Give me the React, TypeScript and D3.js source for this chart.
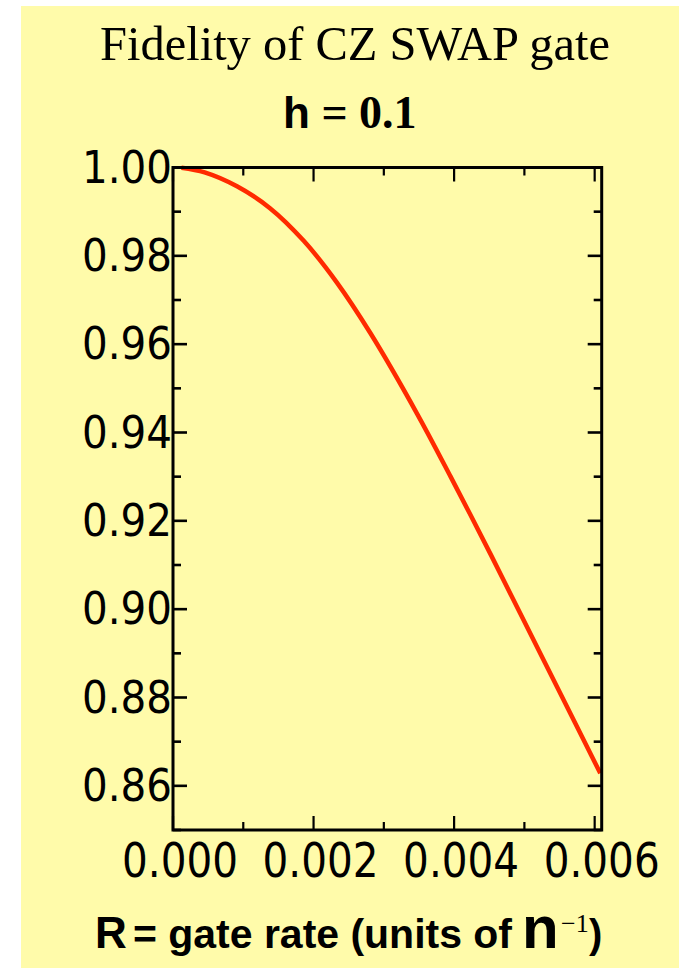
import React from "react";
import * as d3 from "d3";

// values
const rateValues = [0.00012, 0.00045, 0.00091, 0.00138, 0.00186, 0.00233, 0.00281, 0.00347, 0.00395, 0.00452, 0.00494, 0.00556, 0.00608];
const fidelityValues = [0.99995, 0.9989, 0.99575, 0.9908, 0.9834, 0.974, 0.96246, 0.94435, 0.93, 0.9124, 0.89906, 0.8794, 0.86283];

const xMajorTicks = [0, 0.002, 0.004, 0.006];
const xMinorTicks = [0.001, 0.003, 0.005];
const yMajorTicks = [0.86, 0.88, 0.9, 0.92, 0.94, 0.96, 0.98, 1.0];
const yMinorTicks = [0.85, 0.87, 0.89, 0.91, 0.93, 0.95, 0.97, 0.99];

const width = 679;
const height = 972;
const plot = { left: 173, right: 601.7, top: 167.5, bottom: 830 };
const majorLen = 14;
const minorLen = 8;

const x = d3.scaleLinear().domain([0, 0.0061]).range([plot.left, plot.right]);
const y = d3.scaleLinear().domain([0.85, 1.0]).range([plot.bottom, plot.top]);

const line = d3
  .line<number>()
  .x((d, i) => x(rateValues[i]))
  .y((d) => y(d))
  .curve(d3.curveCatmullRom.alpha(0.5));

const tickFont = "'DejaVu Sans', Verdana, sans-serif";
const sans = "'Liberation Sans', Arial, sans-serif";
const serif = "'Liberation Serif', 'Times New Roman', serif";

export default function App() {
  return (
    <svg
      width={width}
      height={height}
      style={{ position: "absolute", left: 0, top: 0 }}
    >
      <rect x={0} y={0} width={width} height={height} fill="#ffffff" />
      <rect x={21} y={6} width={width - 21} height={962} fill="#fffbaa" />

      <text
        x={355}
        y={60}
        textAnchor="middle"
        fontFamily={serif}
        fontSize={48}
        textLength={510}
        lengthAdjust="spacingAndGlyphs"
      >
        Fidelity of CZ SWAP gate
      </text>
      <text x={283} y={128} fontWeight="bold">
        <tspan fontFamily={sans} fontSize={44}>h</tspan>
        <tspan fontFamily={serif} fontSize={46}>
          {" = 0.1"}
        </tspan>
      </text>

      {/* curve */}
      <path
        d={line(fidelityValues) || ""}
        fill="none"
        stroke="#ff2a00"
        strokeWidth={4.5}
      />

      {/* y ticks, left and right */}
      {yMajorTicks.concat(yMinorTicks).map((t) => {
        const len = yMajorTicks.includes(t) ? majorLen : minorLen;
        return (
          <g key={"y" + t} stroke="#000" strokeWidth={2.6}>
            <line x1={plot.left} x2={plot.left + len} y1={y(t)} y2={y(t)} />
            <line x1={plot.right} x2={plot.right - len} y1={y(t)} y2={y(t)} />
          </g>
        );
      })}

      {/* x ticks, bottom and top */}
      {xMajorTicks.concat(xMinorTicks).map((t) => {
        const len = xMajorTicks.includes(t) ? majorLen : minorLen;
        return (
          <g key={"x" + t} stroke="#000" strokeWidth={2.2}>
            <line x1={x(t)} x2={x(t)} y1={plot.bottom} y2={plot.bottom - len} />
            <line x1={x(t)} x2={x(t)} y1={plot.top} y2={plot.top + len} />
          </g>
        );
      })}

      <rect
        x={plot.left}
        y={plot.top}
        width={plot.right - plot.left}
        height={plot.bottom - plot.top}
        fill="none"
        stroke="#000"
        strokeWidth={3}
      />

      {/* tick labels */}
      {yMajorTicks.map((t) => (
        <text
          key={"yl" + t}
          x={172}
          y={y(t) + 15}
          textAnchor="end"
          fontFamily={tickFont}
          fontSize={44}
          textLength={90}
          lengthAdjust="spacingAndGlyphs"
        >
          {d3.format(".2f")(t)}
        </text>
      ))}
      {xMajorTicks.map((t) => (
        <text
          key={"xl" + t}
          x={x(t) + 7}
          y={877}
          textAnchor="middle"
          fontFamily={tickFont}
          fontSize={48}
          textLength={116}
          lengthAdjust="spacingAndGlyphs"
        >
          {d3.format(".3f")(t)}
        </text>
      ))}

      {/* x axis title */}
      <text x={95} y={948} fontFamily={sans} fontWeight="bold">
        <tspan fontSize={44}>R</tspan>
        <tspan
          x={133}
          fontSize={40}
          textLength={379}
          lengthAdjust="spacingAndGlyphs"
        >
          = gate rate (units of
        </tspan>
        <tspan x={522} fontSize={60}>
          n
        </tspan>
        <tspan x={561} fontSize={26} fontWeight="normal" fontFamily={serif} dy={-16}>
          −1
        </tspan>
        <tspan x={589} fontSize={40} dy={16}>
          )
        </tspan>
      </text>
    </svg>
  );
}
